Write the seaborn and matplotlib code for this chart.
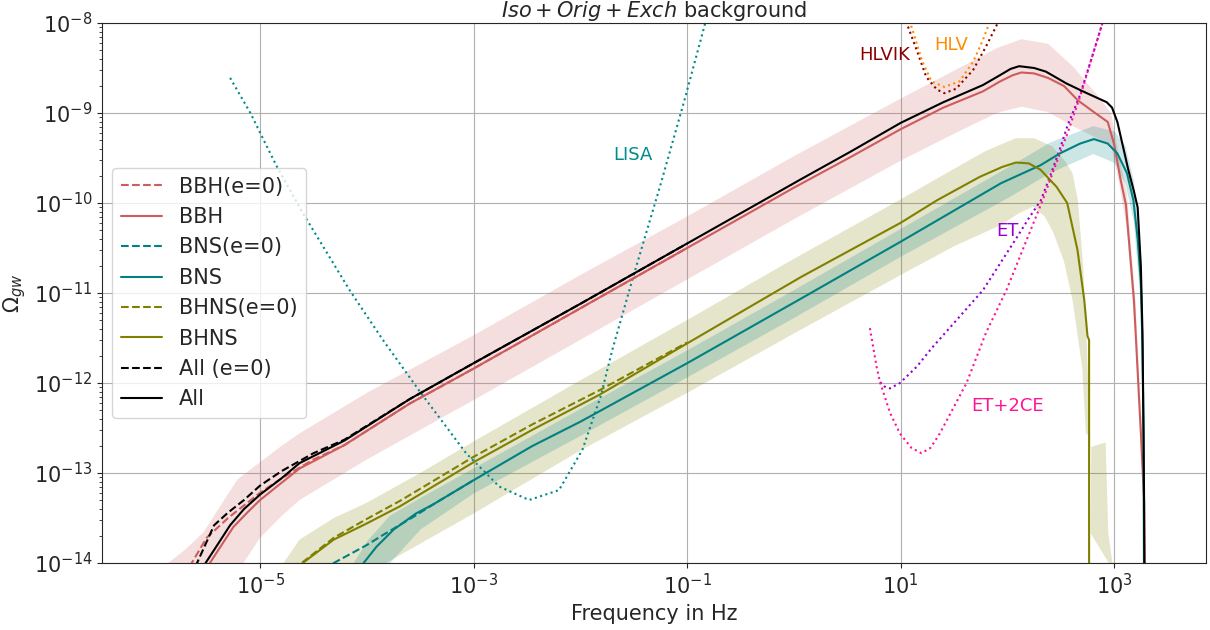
import numpy as np
import pandas as pd
import matplotlib
matplotlib.use("Agg")
import matplotlib.pyplot as plt
import matplotlib.ticker as mticker
import seaborn as sns

# ---------------- data (log10 of frequency [Hz] and of Omega_gw) ----------------
# BBH
bbh_logf = [-5.52, -5.47, -5.36, -5.25, -5.12, -5.0, -4.8, -4.63, -4.21, -3.6, -3.0, -2.0, -1.0, 0.0,
            0.53, 1.0, 1.4, 1.77, 1.93, 2.05, 2.13, 2.25, 2.38, 2.53, 2.66, 2.81, 2.94, 3.0, 3.06, 3.11,
            3.185, 3.25, 3.28, 3.29]
bbh_logO = [-14.15, -14.0, -13.8, -13.6, -13.44, -13.30, -13.11, -12.95, -12.69, -12.23, -11.84, -11.17,
            -10.50, -9.83, -9.49, -9.18, -8.94, -8.76, -8.65, -8.58, -8.55, -8.56, -8.61, -8.70, -8.86,
            -8.99, -9.10, -9.35, -9.74, -10.02, -11.08, -12.56, -13.3, -14.5]
bbh0_logf = [-5.71, -5.64, -5.5, -5.3, -5.15, -5.0, -4.8, -4.5, -4.21, -3.6, -3.0, -2.0, -1.0]
bbh0_logO = [-14.15, -14.0, -13.72, -13.5, -13.36, -13.22, -13.06, -12.85, -12.69, -12.23, -11.84,
             -11.17, -10.50]
bbh_band_logf = [-5.95, -5.86, -5.7, -5.53, -5.39, -5.21, -5.0, -4.8, -4.63, -4.0, -3.0, -2.0, -1.0,
                 0.0, 1.0, 1.5, 1.9, 2.13, 2.38, 2.62, 2.84, 2.97, 3.05, 3.12, 3.2, 3.26, 3.29]
bbh_band_hi = [-14.3, -14.0, -13.85, -13.66, -13.40, -13.07, -12.88, -12.70, -12.56, -12.11, -11.47,
               -10.80, -10.15, -9.48, -8.84, -8.53, -8.28, -8.18, -8.23, -8.49, -8.80, -9.0, -9.5,
               -9.9, -11.1, -12.55, -14.5]
bbh_band_lo = [-15.5, -15.2, -14.9, -14.6, -14.35, -14.1, -13.72, -13.48, -13.30, -12.85, -12.19,
               -11.52, -10.85, -10.18, -9.53, -9.23, -9.0, -8.93, -8.99, -9.15, -9.28, -9.35, -9.8,
               -10.3, -11.5, -12.95, -14.5]

# BNS
bns_logf = [-4.08, -4.03, -3.91, -3.75, -3.54, -3.38, -3.0, -2.45, -2.0, -1.0, 0.07, 1.0, 1.94, 2.31,
            2.49, 2.68, 2.81, 2.94, 3.03, 3.12, 3.18, 3.22, 3.25, 3.265, 3.275, 3.28]
bns_logO = [-14.1, -14.0, -13.82, -13.63, -13.45, -13.35, -13.08, -12.70, -12.43, -11.78, -11.06,
            -10.43, -9.78, -9.58, -9.45, -9.34, -9.29, -9.34, -9.45, -9.67, -9.97, -10.4, -10.89,
            -11.6, -12.6, -14.5]
bns0_logf = [-4.38, -4.31, -4.0, -3.85, -3.54, -3.38, -3.0]
bns0_logO = [-14.1, -14.0, -13.80, -13.69, -13.47, -13.35, -13.08]
bns_band_logf = [-4.2, -4.13, -4.0, -3.79, -3.5, -3.0, -2.0, -1.0, 0.0, 1.0, 2.0, 2.4, 2.8, 3.0, 3.1,
                 3.18, 3.25, 3.29]
bns_band_hi = [-14.2, -14.0, -13.75, -13.47, -13.27, -12.94, -12.28, -11.63, -10.96, -10.28, -9.6,
               -9.32, -9.14, -9.2, -9.36, -9.75, -10.6, -14.5]
bns_band_lo = [-15.0, -14.75, -14.45, -14.0, -13.62, -13.22, -12.58, -11.93, -11.27, -10.59, -9.94,
               -9.66, -9.45, -9.55, -9.78, -10.2, -11.2, -14.5]

# BHNS
bhns_logf = [-4.65, -4.60, -4.31, -4.0, -3.69, -3.38, -3.0, -2.45, -1.82, -1.0, 0.07, 1.0, 1.34, 1.74,
             1.95, 2.08, 2.2, 2.31, 2.46, 2.56, 2.656, 2.72, 2.75, 2.765, 2.765]
bhns_logO = [-14.1, -14.0, -13.74, -13.56, -13.37, -13.15, -12.88, -12.52, -12.13, -11.56, -10.82,
             -10.22, -9.97, -9.71, -9.60, -9.55, -9.56, -9.63, -9.82, -10.0, -10.52, -11.08, -11.48,
             -11.52, -14.5]
bhns0_logf = [-4.66, -4.61, -4.31, -4.0, -3.69, -3.38, -3.0, -2.45, -1.82, -1.0]
bhns0_logO = [-14.1, -14.0, -13.72, -13.51, -13.31, -13.09, -12.82, -12.46, -12.08, -11.55]
bhns_hi_logf = [-4.85, -4.78, -4.63, -4.31, -4.0, -3.5, -3.0, -2.0, -1.0, 0.0, 1.0, 1.5, 1.8, 2.08,
                2.25, 2.42, 2.55, 2.61, 2.66, 2.71, 2.74, 2.775]
bhns_hi = [-14.1, -14.0, -13.74, -13.50, -13.33, -13.0, -12.65, -11.97, -11.30, -10.62, -9.96, -9.62,
           -9.42, -9.28, -9.28, -9.37, -9.55, -9.67, -9.97, -10.71, -11.44, -12.6]
bhns_lo_logf = [-4.0, -3.85, -3.0, -2.0, -1.0, 0.0, 1.0, 1.5, 1.93, 2.1, 2.24, 2.35, 2.43, 2.53, 2.61,
                2.70, 2.735, 2.775]
bhns_lo = [-14.15, -14.02, -13.45, -12.75, -12.11, -11.45, -10.80, -10.48, -10.25, -10.12, -10.04,
           -10.15, -10.33, -10.65, -11.08, -11.82, -12.56, -12.6]
# detached high-frequency piece of the BHNS band
bhns_tail_logf = [2.78, 2.785, 2.92, 2.945, 2.99, 2.975]
bhns_tail_logO = [-13.67, -12.71, -12.66, -13.67, -14.05, -14.05]

# All
all_logf = [-5.56, -5.51, -5.4, -5.28, -5.15, -5.0, -4.8, -4.63, -4.21, -3.6, -3.0, -2.0, -1.0, 0.06,
            0.53, 1.0, 1.4, 1.77, 1.93, 2.03, 2.11, 2.25, 2.36, 2.55, 2.69, 2.80, 2.93, 2.98, 3.03,
            3.08, 3.13, 3.185, 3.22, 3.25, 3.265, 3.275, 3.28, 3.285]
all_logO = [-14.15, -14.0, -13.8, -13.58, -13.40, -13.24, -13.06, -12.89, -12.64, -12.18, -11.78,
            -11.12, -10.45, -9.74, -9.43, -9.11, -8.88, -8.69, -8.58, -8.51, -8.48, -8.50, -8.54,
            -8.67, -8.75, -8.81, -8.88, -8.94, -9.1, -9.36, -9.62, -9.87, -10.05, -10.71, -11.44,
            -12.56, -13.3, -14.5]
all0_logf = [-5.65, -5.59, -5.43, -5.3, -5.15, -5.0, -4.8, -4.5, -4.21, -3.6, -3.0, -2.0, -1.0]
all0_logO = [-14.15, -14.0, -13.58, -13.44, -13.3, -13.14, -12.98, -12.78, -12.63, -12.18, -11.78,
             -11.12, -10.45]

# detector sensitivity curves
lisa_logf = [-5.28, -5.09, -4.92, -4.84, -4.60, -4.16, -3.85, -3.50, -3.07, -2.76, -2.48, -2.20,
             -1.98, -1.81, -1.70, -1.50, -1.25, -1.03, -0.83, -0.80]
lisa_logO = [-8.61, -9.0, -9.41, -9.6, -10.11, -10.97, -11.52, -12.1, -12.78, -13.15, -13.30, -13.19,
             -12.74, -12.15, -11.63, -10.80, -9.80, -8.88, -8.0, -7.85]
hlvik_logf = [1.03, 1.056, 1.15, 1.24, 1.34, 1.41, 1.52, 1.68, 1.80, 1.91, 1.94]
hlvik_logO = [-7.8, -8.0, -8.3, -8.60, -8.74, -8.78, -8.73, -8.52, -8.26, -8.0, -7.9]
hlv_logf = [1.07, 1.09, 1.12, 1.20, 1.29, 1.41, 1.55, 1.68, 1.77, 1.83, 1.86]
hlv_logO = [-7.85, -8.0, -8.11, -8.42, -8.65, -8.71, -8.65, -8.43, -8.19, -8.0, -7.9]
et_logf = [0.807, 0.85, 0.9, 0.993, 1.15, 1.30, 1.554, 1.77, 2.095, 2.20, 2.313, 2.41, 2.50, 2.56,
           2.68, 2.80, 2.89, 2.93]
et_logO = [-11.99, -12.04, -12.06, -12.0, -11.82, -11.6, -11.26, -10.97, -10.37, -10.17, -9.97,
           -9.67, -9.37, -9.15, -8.80, -8.35, -8.0, -7.85]
et2ce_logf = [0.712, 0.775, 0.807, 0.90, 0.993, 1.10, 1.196, 1.28, 1.367, 1.617, 1.80, 1.99, 2.18,
              2.33, 2.46, 2.57, 2.68, 2.80, 2.89, 2.93]
et2ce_logO = [-11.39, -11.82, -11.99, -12.33, -12.56, -12.72, -12.78, -12.72, -12.56, -12.0, -11.44,
              -10.97, -10.41, -9.97, -9.55, -9.2, -8.82, -8.35, -8.0, -7.85]

detector_names = ["LISA", "HLVIK", "HLV", "ET", "ET+2CE"]
detector_label_logf = [-1.51, 0.853, 1.47, 2.0, 2.0]
detector_label_logO = [-9.47, -8.36, -8.24, -10.31, -12.26]

# ---------------- style ----------------
sns.set_theme(style="ticks", rc={
    "axes.edgecolor": "0.15", "axes.linewidth": 0.8,
    "xtick.major.size": 3.5, "ytick.major.size": 3.5, "ytick.minor.size": 2.0,
    "xtick.major.width": 0.8, "ytick.major.width": 0.8, "ytick.minor.width": 0.6,
    "xtick.color": "0.15", "ytick.color": "0.15",
})
plt.rcParams["font.family"] = ["DejaVu Sans"]

C_BBH, C_BNS, C_BHNS, C_ALL = "indianred", "teal", "olive", "black"

fig = plt.figure(figsize=(12.1, 6.3), dpi=100)
ax = fig.add_axes([0.0843, 0.1063, 0.9124, 0.8572])
ax.set_xscale("log")
ax.set_yscale("log")
ax.set_axisbelow(True)
ax.grid(True, which="major", color="#b0b0b0", lw=0.8)

def p(a):
    return 10.0 ** np.asarray(a, dtype=float)

# uncertainty bands
ax.fill_between(p(bbh_band_logf), p(bbh_band_lo), p(bbh_band_hi), color=C_BBH, alpha=0.2, lw=0, zorder=1)
ax.fill(np.concatenate([p(bhns_hi_logf), p(bhns_lo_logf)[::-1]]),
        np.concatenate([p(bhns_hi), p(bhns_lo)[::-1]]), color=C_BHNS, alpha=0.2, lw=0, zorder=1)
ax.fill(p(bhns_tail_logf), p(bhns_tail_logO), color=C_BHNS, alpha=0.2, lw=0, zorder=1)
ax.fill_between(p(bns_band_logf), p(bns_band_lo), p(bns_band_hi), color=C_BNS, alpha=0.2, lw=0, zorder=1)

LW = 1.5
def line(fx, fy, color, ls, label=None, lw=LW, z=3):
    sns.lineplot(x=p(fx), y=p(fy), ax=ax, color=color, linestyle=ls, lw=lw, label=label,
                 sort=False, estimator=None, zorder=z)

line(bbh0_logf, bbh0_logO, C_BBH, "--", "BBH(e=0)")
line(bbh_logf, bbh_logO, C_BBH, "-", "BBH")
line(bns0_logf, bns0_logO, C_BNS, "--", "BNS(e=0)")
line(bns_logf, bns_logO, C_BNS, "-", "BNS")
line(bhns0_logf, bhns0_logO, C_BHNS, "--", "BHNS(e=0)")
line(bhns_logf, bhns_logO, C_BHNS, "-", "BHNS")
line(all0_logf, all0_logO, C_ALL, "--", "All (e=0)")
line(all_logf, all_logO, C_ALL, "-", "All")

det_colors = ["darkcyan", "darkred", "darkorange", "darkviolet", "deeppink"]
det_f = [lisa_logf, hlvik_logf, hlv_logf, et_logf, et2ce_logf]
det_O = [lisa_logO, hlvik_logO, hlv_logO, et_logO, et2ce_logO]
for fx, fy, c in zip(det_f, det_O, det_colors):
    line(fx, fy, c, ":", None, lw=1.5, z=2)
for name, lx, ly, c in zip(detector_names, detector_label_logf, detector_label_logO, det_colors):
    ax.text(10 ** lx, 10 ** ly, name, color=c, fontsize=13, ha="center", va="center")

ax.set_xlim(10 ** -6.48, 10 ** 3.86)
ax.set_ylim(1e-14, 1e-8)
ax.set_xticks([1e-5, 1e-3, 1e-1, 1e1, 1e3])
ax.xaxis.set_minor_locator(mticker.NullLocator())
ax.yaxis.set_major_locator(mticker.LogLocator(base=10, numticks=10))
ax.yaxis.set_minor_locator(mticker.LogLocator(base=10, subs=np.arange(2, 10), numticks=20))
ax.tick_params(axis="both", which="major", labelsize=15)

ax.set_xlabel("Frequency in Hz", fontsize=15)
ax.set_ylabel(r"$\Omega_{gw}$", fontsize=15)
ax.set_title(r"$Iso + Orig + Exch$ background", fontsize=15, pad=4.5)

leg = ax.legend(loc="center left", fontsize=15, framealpha=0.8, fancybox=True)
leg.get_frame().set_edgecolor("0.8")

fig.savefig("out.png", dpi=100)
